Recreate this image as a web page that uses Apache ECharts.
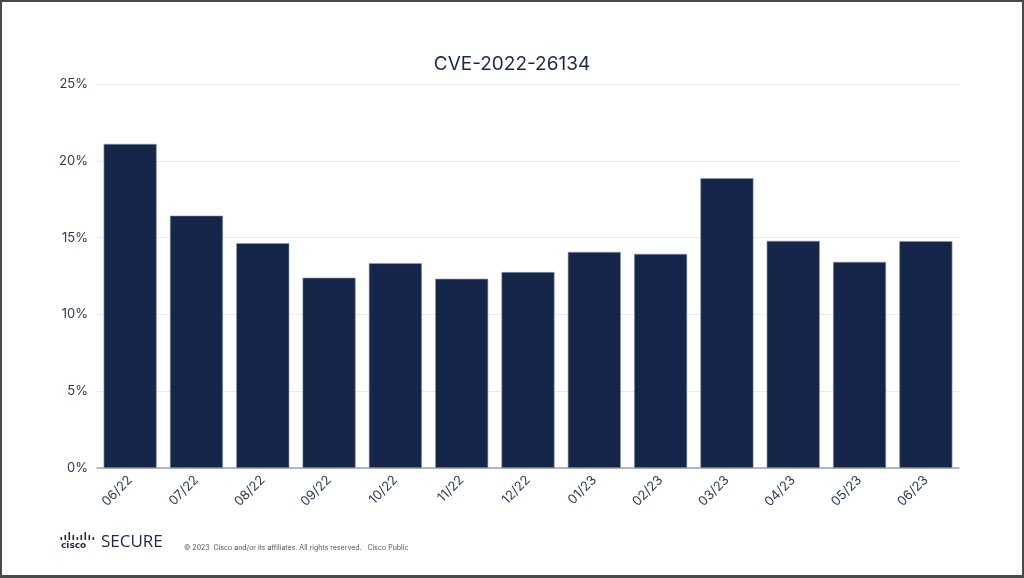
<!DOCTYPE html>
<html>
<head>
<meta charset="utf-8">
<script src="https://cdn.jsdelivr.net/npm/echarts@6/dist/echarts.min.js"></script>
<style>
html,body{margin:0;padding:0;background:#fff;}
#frame{width:1024px;height:578px;box-sizing:border-box;border:2px solid #4a4a4a;border-bottom-width:3px;position:relative;overflow:hidden;}
#chart{position:absolute;left:-2px;top:-2px;width:1024px;height:578px;}
</style>
</head>
<body>
<div id="frame"><div id="chart"></div></div>
<script>
const categories = ['06/22','07/22','08/22','09/22','10/22','11/22','12/22','01/23','02/23','03/23','04/23','05/23','06/23'];
const values = [21.1, 16.43, 14.64, 12.39, 13.33, 12.32, 12.76, 14.07, 13.94, 18.87, 14.79, 13.42, 14.77];
const yTicks = [0, 5, 10, 15, 20, 25];
const titleText = 'CVE-2022-26134';
const footerText = '\u00a9 2023  Cisco and/or its affiliates. All rights reserved.   Cisco Public';

const chart = echarts.init(document.getElementById('chart'));
const logoHeights = [3, 5, 8, 5, 3, 5, 8, 5, 3];
const logoBars = logoHeights.map((h, i) => ({
  type: 'rect',
  shape: { x: 60.5 + i * 4, y: 540 - h, width: 1.6, height: h },
  style: { fill: '#1b2a4a' }
}));
chart.setOption({
  animation: false,
  title: {
    text: titleText,
    left: 'center',
    top: 50,
    textStyle: { fontFamily: 'Inter, Roboto, sans-serif', fontSize: 19, fontWeight: 'normal', color: '#1b2a4a' }
  },
  grid: { left: 97, right: 65, top: 84, bottom: 110 },
  xAxis: {
    type: 'category',
    data: categories,
    axisLine: { lineStyle: { color: '#9ca3b6', width: 1.5 } },
    axisTick: { show: false },
    axisLabel: { rotate: 45, color: '#2b3a5c', fontSize: 13, fontFamily: 'Inter, Roboto, sans-serif', margin: 10 }
  },
  yAxis: {
    type: 'value',
    min: yTicks[0],
    max: yTicks[yTicks.length - 1],
    interval: 5,
    axisLine: { show: false },
    axisTick: { show: false },
    splitLine: { lineStyle: { color: '#ebebeb', width: 1 } },
    axisLabel: { formatter: '{value}%', color: '#2b3a5c', fontSize: 13, fontFamily: 'Inter, Roboto, sans-serif', margin: 9 }
  },
  series: [{
    type: 'bar',
    data: values,
    barCategoryGap: '20%',
    itemStyle: { color: '#15264a', borderColor: '#8f99b0', borderWidth: 0.6 }
  }],
  graphic: logoBars.concat([
    { type: 'text', left: 61, top: 541, style: { text: 'cisco', fill: '#1b2a4a', font: 'bold 9px "DejaVu Sans", Inter, sans-serif' } },
    { type: 'text', left: 101, top: 534, style: { text: 'SECURE', fill: '#1b2a4a', font: '500 17px "Open Sans", Inter, sans-serif' } },
    { type: 'text', left: 184, top: 544, style: { text: footerText, fill: '#555', font: '7px Inter, Roboto, sans-serif' } }
  ])
});
</script>
</body>
</html>
